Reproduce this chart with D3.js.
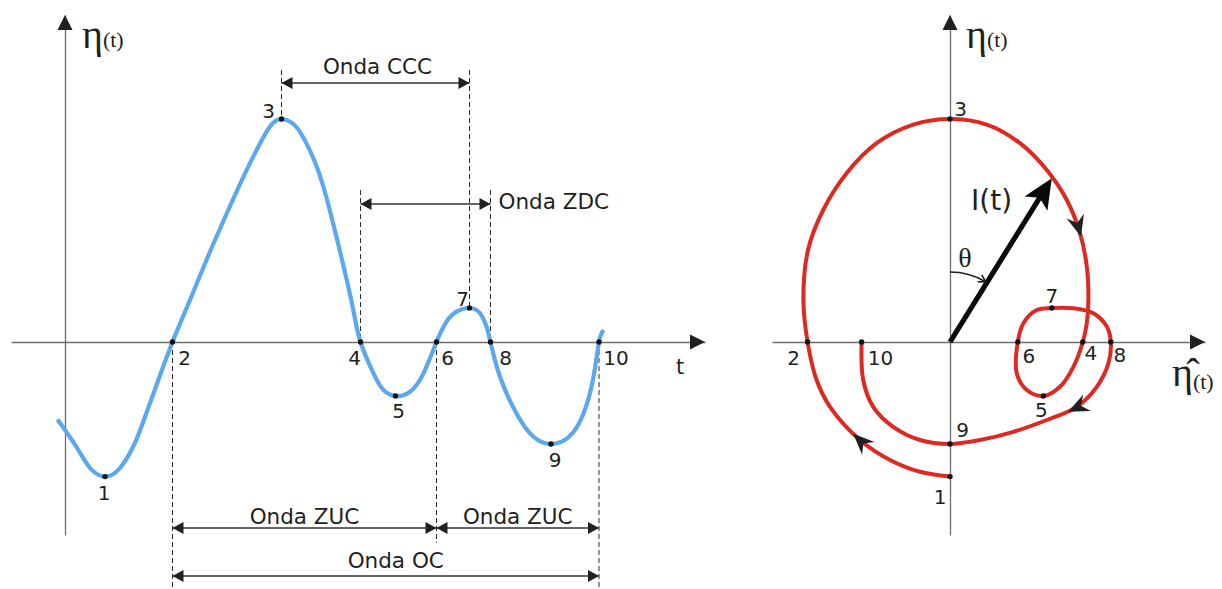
<!DOCTYPE html>
<html>
<head>
<meta charset="utf-8">
<script src="https://cdn.jsdelivr.net/npm/d3@7"></script>
<style>
  html, body { margin: 0; padding: 0; background: #fff; }
  svg { display: block; }
</style>
</head>
<body>
<svg id="chart" width="1222" height="589"></svg>
<script>
// Characteristic points of the record, numbered 1–10
const pointIds    = [1, 2, 3, 4, 5, 6, 7, 8, 9, 10];
const pointT      = [0.80, 2.15, 4.33, 5.91, 6.61, 7.43, 8.09, 8.51, 9.72, 10.68];
const pointEta    = [-6.73, 0, 11.15, 0, -2.70, 0, 1.70, 0, -5.10, 0];
const pointEtaHat = [0, -7.12, 0, 6.64, 4.67, 3.39, 5.09, 8.04, 0, -4.42];

// Free-surface elevation record η(t)
const waveT   = [-0.15, 0.23, 0.50, 0.80, 1.10, 1.38, 1.57, 1.86, 2.15, 2.50, 2.83, 3.23, 3.63, 3.97, 4.15, 4.33,
                 4.51, 4.70, 5.03, 5.30, 5.57, 5.77, 5.91, 6.17, 6.37, 6.61, 6.90, 7.17, 7.43, 7.63, 7.83,
                 8.09, 8.30, 8.43, 8.51, 8.70, 9.03, 9.37, 9.72, 10.08, 10.37, 10.57, 10.68, 10.77];
const waveEta = [-3.87, -5.25, -6.30, -6.73, -6.30, -5.15, -3.95, -1.95, 0, 2.10, 4.10, 6.40, 8.58, 10.25, 10.93, 11.15,
                 11.00, 10.50, 8.80, 6.55, 3.80, 1.55, 0, -1.57, -2.40, -2.70, -2.49, -1.57, 0, 1.02, 1.52,
                 1.70, 1.44, 0.77, 0, -1.74, -3.57, -4.74, -5.10, -4.74, -3.57, -1.74, 0, 0.60];

// Trajectory of the analytic signal in the (η̂, η) plane, from point 1 to point 10
const orbitEtaHat = [0, -1.50, -3.00, -4.50, -6.00, -6.67, -7.12, -7.33, -7.10, -6.34, -5.17, -3.67, -1.84, 0,
                     1.84, 3.50, 4.84, 5.84, 6.50, 6.84, 6.92, 6.84, 6.64, 6.17, 5.50, 4.67, 3.84, 3.34, 3.39,
                     3.67, 4.34, 5.09, 6.17, 7.17, 7.84, 8.04, 7.92, 7.34, 6.34, 4.84, 3.17, 1.50, 0,
                     -1.50, -2.84, -3.84, -4.34, -4.42];
const orbitEta    = [-6.73, -6.49, -5.90, -4.90, -3.24, -1.90, 0, 2.10, 4.60, 6.60, 8.44, 9.94, 10.87, 11.15,
                     10.87, 9.94, 8.60, 7.10, 5.44, 3.77, 2.10, 0.94, 0, -1.24, -2.24, -2.70, -2.40, -1.57, 0,
                     0.94, 1.60, 1.70, 1.69, 1.44, 0.77, 0, -1.07, -2.24, -3.24, -3.90, -4.49, -4.90, -5.10,
                     -4.90, -4.24, -3.24, -1.90, 0];

// Direction markers along the trajectory (η̂, η)
const orbitMarkerEtaHat = [-4.85, 6.55, 5.9];
const orbitMarkerEta    = [-4.60, 5.30, -3.45];

// Envelope vector I(t) (η̂, η)
const vectorEtaHat = 5.09;
const vectorEta    = 8.19;

// Wave definitions measured between characteristic points
const spanLabels = ["Onda CCC", "Onda ZDC", "Onda ZUC", "Onda ZUC", "Onda OC"];
const spanFrom   = [3, 4, 2, 6, 2];
const spanTo     = [7, 8, 6, 10, 10];

// ---------------------------------------------------------------------------
const svg = d3.select("#chart");
const INK = "#231f20";
const AXIS = "#6e6e6e";
const BLUE = "#5ca8ef";
const RED = "#dc2a22";
const SANS = "'DejaVu Sans', Verdana, sans-serif";
const SERIF = "'Liberation Serif', 'Times New Roman', serif";

const x  = d3.scaleLinear().domain([-1.08, 12.8]).range([11, 705]);
const y  = d3.scaleLinear().domain([-9.65, 16.35]).range([535, 15]);
const xh = d3.scaleLinear().domain([-8.9, 12.75]).range([772, 1205]);
const yh = y.copy();

const idx = id => pointIds.indexOf(id);

// Filled arrow head (optionally notched) with its tip at (tx, ty), pointing along angle a
function head(g, tx, ty, a, len, half, notch, fill) {
  const c = Math.cos(a), s = Math.sin(a);
  const shape = notch ? [[0, 0], [-len, -half], [-notch, 0], [-len, half]] : [[0, 0], [-len, -half], [-len, half]];
  const pts = shape.map(([u, v]) => [tx + u * c - v * s, ty + u * s + v * c]);
  g.append("path").attr("d", "M" + pts.join("L") + "Z").attr("fill", fill || INK);
}

// Axes with arrow tips
function drawAxes(xs, ys) {
  const gx = svg.append("g").attr("transform", `translate(0,${ys(0)})`)
    .call(d3.axisBottom(xs).tickValues([]).tickSizeOuter(0));
  const gy = svg.append("g").attr("transform", `translate(${xs(0)},0)`)
    .call(d3.axisLeft(ys).tickValues([]).tickSizeOuter(0));
  [gx, gy].forEach(g => g.select(".domain").attr("stroke", AXIS).attr("stroke-width", 1.3));
  head(svg, xs.range()[1], ys(0), 0, 15, 7.5);
  head(svg, xs(0), ys.range()[1], -Math.PI / 2, 15, 7.5);
}

function axisTitle(px, py, hat) {
  const t = svg.append("text").attr("x", px).attr("y", py).attr("fill", INK).attr("font-family", SERIF);
  t.append("tspan").attr("font-size", 40).text(hat ? "η\u0302" : "η");
  t.append("tspan").attr("font-size", 22).attr("dy", hat ? 3 : -1).text("(t)");
}

// ------------------------------- left panel --------------------------------
drawAxes(x, y);
axisTitle(82, 48, false);

svg.append("text").attr("x", 680).attr("y", 374).attr("text-anchor", "middle")
  .attr("font-family", SANS).attr("font-size", 21).attr("fill", INK).text("t");

// Dashed guides from the characteristic points
const guideTop = { 3: 70, 7: 70, 4: 190, 8: 190 };
const guideBottom = { 2: 589, 6: 543, 10: 589 };
const dashes = svg.append("g").attr("stroke", "#2a2a2a").attr("stroke-width", 1).attr("stroke-dasharray", "5,3");
Object.keys(guideTop).forEach(k => {
  const i = idx(+k);
  dashes.append("line").attr("x1", x(pointT[i])).attr("x2", x(pointT[i]))
    .attr("y1", guideTop[k]).attr("y2", y(pointEta[i]));
});
Object.keys(guideBottom).forEach(k => {
  const i = idx(+k);
  dashes.append("line").attr("x1", x(pointT[i])).attr("x2", x(pointT[i]))
    .attr("y1", y(pointEta[i])).attr("y2", guideBottom[k]);
});

// Elevation record
const waveLine = d3.line().x(d => x(d[0])).y(d => y(d[1])).curve(d3.curveNatural);
svg.append("path").datum(waveT.map((t, i) => [t, waveEta[i]]))
  .attr("d", waveLine).attr("fill", "none").attr("stroke", BLUE)
  .attr("stroke-width", 4.2).attr("stroke-linecap", "butt");

// Dimension arrows for the wave definitions
const spanRow = [
  { y: 83,  ty: 74,  anchor: "middle", dx: 2 },
  { y: 204, ty: 209, anchor: "start",  dx: 0 },
  { y: 528, ty: 524, anchor: "middle", dx: 0 },
  { y: 528, ty: 524, anchor: "middle", dx: 0 },
  { y: 576, ty: 568, anchor: "middle", dx: 10 }
];
const spans = svg.append("g");
spanLabels.forEach((label, k) => {
  const x1 = x(pointT[idx(spanFrom[k])]), x2 = x(pointT[idx(spanTo[k])]);
  const r = spanRow[k];
  spans.append("line").attr("x1", x1).attr("x2", x2).attr("y1", r.y).attr("y2", r.y)
    .attr("stroke", "#333").attr("stroke-width", 1.3);
  head(spans, x1, r.y, Math.PI, 11, 6);
  head(spans, x2, r.y, 0, 11, 6);
  const tx = r.anchor === "start" ? x2 + 8 : (x1 + x2) / 2 + r.dx;
  spans.append("text").attr("x", tx).attr("y", r.ty).attr("text-anchor", r.anchor)
    .attr("font-family", SANS).attr("font-size", 21.5).attr("fill", INK).text(label);
});

// Characteristic points and their numbers
const leftLabelOffset = [[-1, 23], [12, 23], [-13, -1], [-6, 23], [3, 22], [11, 23], [-7, -2], [15, 23], [4, 22.5], [17, 23]];
pointIds.forEach((id, i) => {
  svg.append("circle").attr("cx", x(pointT[i])).attr("cy", y(pointEta[i])).attr("r", 2.7).attr("fill", "#111");
  svg.append("text").attr("x", x(pointT[i]) + leftLabelOffset[i][0]).attr("y", y(pointEta[i]) + leftLabelOffset[i][1])
    .attr("text-anchor", "middle").attr("font-family", SANS).attr("font-size", 20).attr("fill", INK).text(id);
});

// ------------------------------- right panel -------------------------------
drawAxes(xh, yh);
axisTitle(966, 48, false);
axisTitle(1172, 386, true);

// Trajectory
const orbitLine = d3.line().x(d => xh(d[0])).y(d => yh(d[1])).curve(d3.curveCatmullRom.alpha(0.5));
const orbit = svg.append("path").datum(orbitEtaHat.map((v, i) => [v, orbitEta[i]]))
  .attr("d", orbitLine).attr("fill", "none").attr("stroke", RED)
  .attr("stroke-width", 4).attr("stroke-linecap", "butt");

// Direction darts placed on the trajectory
const node = orbit.node();
const total = node.getTotalLength();
orbitMarkerEtaHat.forEach((v, k) => {
  const px = xh(v), py = yh(orbitMarkerEta[k]);
  let best = 0, bestD = Infinity;
  for (let l = 0; l <= total; l += 1) {
    const p = node.getPointAtLength(l);
    const d = (p.x - px) ** 2 + (p.y - py) ** 2;
    if (d < bestD) { bestD = d; best = l; }
  }
  const p0 = node.getPointAtLength(Math.max(0, best - 5));
  const p1 = node.getPointAtLength(Math.min(total, best + 5));
  const tip = node.getPointAtLength(best);
  head(svg, tip.x, tip.y, Math.atan2(p1.y - p0.y, p1.x - p0.x), 21, 9, 14);
});

// Envelope vector I(t)
const ox = xh(0), oy = yh(0);
const vx = xh(vectorEtaHat), vy = yh(vectorEta);
const va = Math.atan2(vy - oy, vx - ox);
const vlen = Math.hypot(vx - ox, vy - oy);
svg.append("line").attr("x1", ox).attr("y1", oy)
  .attr("x2", ox + (vlen - 22) * Math.cos(va)).attr("y2", oy + (vlen - 22) * Math.sin(va))
  .attr("stroke", "#0a0a0a").attr("stroke-width", 5.2);
head(svg, vx, vy, va, 30, 13.5, 23, "#0a0a0a");
svg.append("text").attr("x", 971).attr("y", 210).attr("font-family", SANS).attr("font-size", 28)
  .attr("fill", INK).text("I(t)");

// Angle θ between the vertical axis and I(t)
const rA = 70;
const a0 = -Math.PI / 2, a1 = va - 0.02;
const arcPath = d3.path();
arcPath.arc(ox, oy, rA, a0, a1, false);
svg.append("path").attr("d", arcPath.toString()).attr("fill", "none").attr("stroke", INK).attr("stroke-width", 1.6);
{
  const ex = ox + rA * Math.cos(a1), ey = oy + rA * Math.sin(a1);
  const ta = a1 + Math.PI / 2;
  const c = Math.cos(ta), s = Math.sin(ta);
  const wing = (u, w) => [ex + u * c - w * s, ey + u * s + w * c];
  svg.append("path").attr("d", "M" + wing(-7, -4) + "L" + ex + "," + ey + "L" + wing(-7, 4))
    .attr("fill", "none").attr("stroke", INK).attr("stroke-width", 1.6);
}
svg.append("text").attr("x", 965).attr("y", 267).attr("text-anchor", "middle")
  .attr("font-family", SERIF).attr("font-size", 28).attr("fill", INK).text("θ");

// Characteristic points on the trajectory
const rightLabelOffset = [[-10, 27], [-14, 23], [10.5, -3], [8, 18], [-2, 21], [11, 21], [0, -5], [9, 20], [12.5, -7], [19, 23]];
pointIds.forEach((id, i) => {
  const px = xh(pointEtaHat[i]), py = yh(pointEta[i]);
  svg.append("circle").attr("cx", px).attr("cy", py).attr("r", 2.7).attr("fill", "#111");
  svg.append("text").attr("x", px + rightLabelOffset[i][0]).attr("y", py + rightLabelOffset[i][1])
    .attr("text-anchor", "middle").attr("font-family", SANS).attr("font-size", 20).attr("fill", INK).text(id);
});
</script>
</body>
</html>
